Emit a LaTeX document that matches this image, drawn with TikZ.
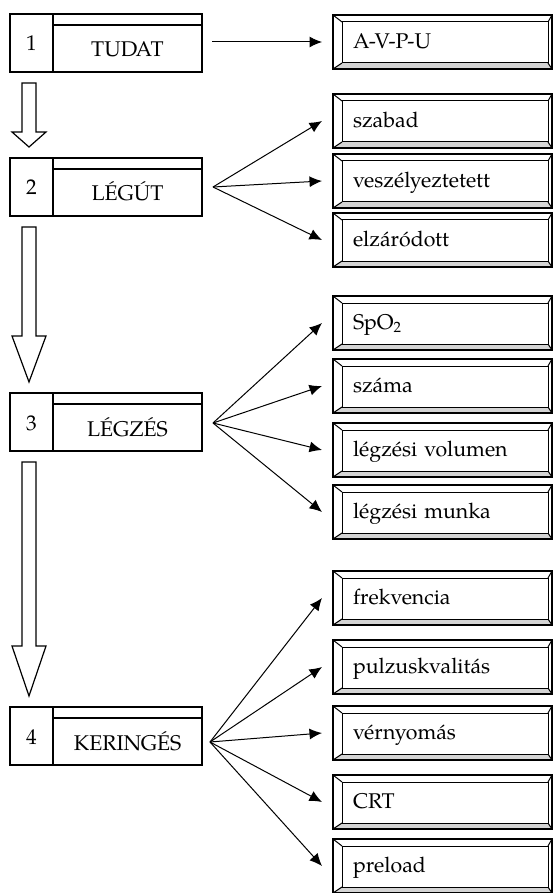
\documentclass[tikz,border=0pt]{standalone}
\usepackage{fontspec}
\setmainfont{TeX Gyre Pagella}
\usetikzlibrary{positioning,calc,arrows.meta}

\tikzset{
  numcell/.style={draw,line width=1.2pt,outer sep=0pt,inner sep=0pt,minimum width=43pt,minimum height=58pt,text height=16pt,text depth=0pt},
  strip/.style={draw,line width=1.2pt,outer sep=0pt,inner sep=0pt,minimum width=149pt,minimum height=11pt,anchor=north west},
  labcell/.style={draw,line width=1.2pt,outer sep=0pt,inner sep=0pt,minimum width=149pt,minimum height=47pt,text height=17pt,text depth=0pt},
  choice/.style={draw,line width=1.3pt,outer sep=0pt,anchor=west,minimum height=54pt,text width=179pt,inner xsep=20pt,inner ysep=0pt,align=left,text height=15pt,text depth=2pt,
    path picture={
      \coordinate (bnw) at (path picture bounding box.north west);
      \coordinate (bne) at (path picture bounding box.north east);
      \coordinate (bsw) at (path picture bounding box.south west);
      \coordinate (bse) at (path picture bounding box.south east);
      \fill[black!17] (bsw) -- (bse) -- ([shift={(-4pt,6pt)}]bse) -- ([shift={(9pt,6pt)}]bsw) -- cycle;
      \draw[line width=1pt] ([shift={(9pt,-7pt)}]bnw) rectangle ([shift={(-4pt,6pt)}]bse);
      \draw[line width=1pt] (bnw) -- ++(9pt,-7pt) (bne) -- ++(-4pt,-7pt)
        (bsw) -- ++(9pt,6pt) (bse) -- ++(-4pt,6pt);
    }},
  hollow/.style={draw,line width=1.2pt,fill=white,line join=miter},
  fan/.style={->,line width=1pt},
}

% hollow down arrow: from stage #1 to stage #2, head length #3
\newcommand{\hollowarrow}[3]{%
  \path[hollow] let \p1=(#1.south), \p2=(#2.north) in
    (\x1-9.5pt,\y1-11pt) -- (\x1+4.5pt,\y1-11pt) -- (\x1+4.5pt,\y2+11pt+#3)
    -- (\x1+14.5pt,\y2+11pt+#3) -- (\x1-2.5pt,\y2+11pt) -- (\x1-19.5pt,\y2+11pt+#3)
    -- (\x1-9.5pt,\y2+11pt+#3) -- cycle;}

\begin{document}
\begin{tikzpicture}[x=1pt,y=1pt,>={Latex[length=12.5pt,width=11pt]},font=\fontsize{21.3}{25}\selectfont]
\useasboundingbox (0,0) rectangle (553,-893);

% Stages
\node[numcell] (n1) at (31.5,-43) {1};
\node[strip] (t1) at (n1.north east) {};
\node[labcell,below=0pt of t1] (s1) {TUDAT};

\node[numcell] (n2) at (31.5,-187) {2};
\node[strip] (t2) at (n2.north east) {};
\node[labcell,below=0pt of t2] (s2) {LÉGÚT};

\node[numcell] (n3) at (31.5,-422) {3};
\node[strip] (t3) at (n3.north east) {};
\node[labcell,below=0pt of t3] (s3) {LÉGZÉS};

\node[numcell] (n4) at (31.5,-736) {4};
\node[strip] (t4) at (n4.north east) {};
\node[labcell,below=0pt of t4] (s4) {KERINGÉS};

% Hollow arrows between stages
\hollowarrow{n1}{n2}{15pt}
\hollowarrow{n2}{n3}{46pt}
\hollowarrow{n3}{n4}{50pt}

% Choices
\node[choice] (avpu) at (333,-42) {A-V-P-U};

\node[choice] (szabad) at (333,-121) {szabad};
\node[choice] (vesz) at (333,-181) {veszélyeztetett};
\node[choice] (elzar) at (333,-240) {elzáródott};

\node[choice] (spo) at (333,-323) {SpO\textsubscript{2}};
\node[choice] (szama) at (333,-386) {száma};
\node[choice] (volumen) at (333,-450) {légzési volumen};
\node[choice] (munka) at (333,-512) {légzési munka};

\node[choice] (frek) at (333,-598) {frekvencia};
\node[choice] (pulzus) at (333,-667) {pulzuskvalitás};
\node[choice] (vernyomas) at (333,-733) {vérnyomás};
\node[choice] (crt) at (333,-802) {CRT};
\node[choice] (preload) at (333,-866) {preload};

% Fan origins
\coordinate (f1) at (212,-42);
\coordinate (f2) at (213,-187);
\coordinate (f3) at (213,-423);
\coordinate (f4) at (210,-742);

% Fan arrows
\draw[fan] (f1) -- ([xshift=-11pt]avpu.west);

\draw[fan] (f2) -- ([xshift=-11pt]szabad.west);
\draw[fan] (f2) -- ([xshift=-11pt]vesz.west);
\draw[fan] (f2) -- ([xshift=-11pt]elzar.west);

\draw[fan] (f3) -- ([xshift=-11pt]spo.west);
\draw[fan] (f3) -- ([xshift=-11pt]szama.west);
\draw[fan] (f3) -- ([xshift=-11pt]volumen.west);
\draw[fan] (f3) -- ([xshift=-11pt]munka.west);

\draw[fan] (f4) -- ([xshift=-11pt]frek.west);
\draw[fan] (f4) -- ([xshift=-11pt]pulzus.west);
\draw[fan] (f4) -- ([xshift=-11pt]vernyomas.west);
\draw[fan] (f4) -- ([xshift=-11pt]crt.west);
\draw[fan] (f4) -- ([xshift=-11pt]preload.west);
\end{tikzpicture}
\end{document}
